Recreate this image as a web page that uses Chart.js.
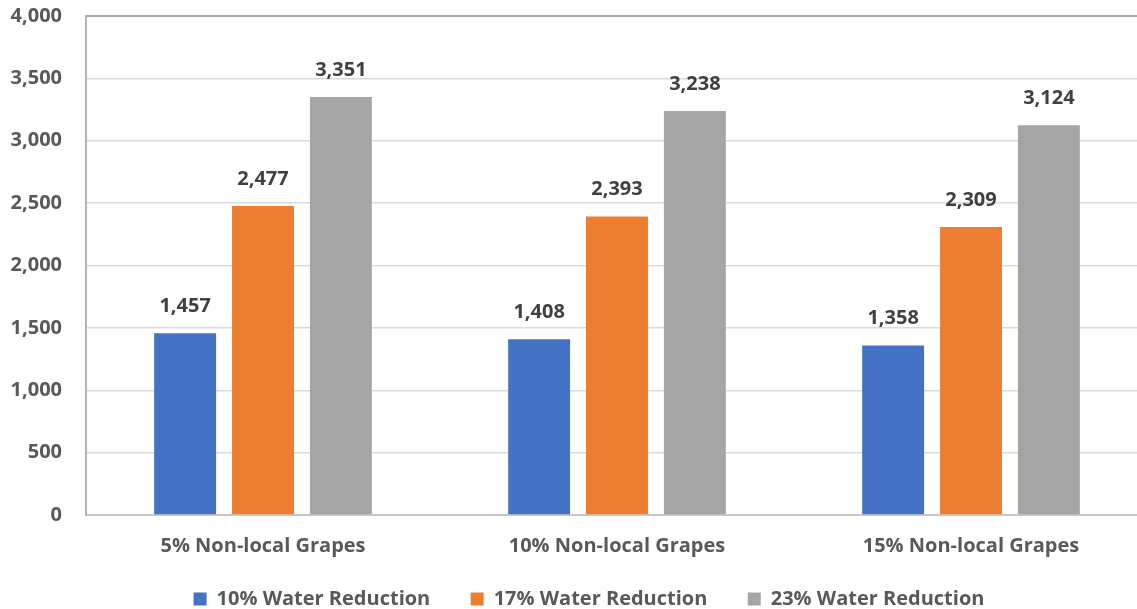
<!DOCTYPE html>
<html>
<head>
<meta charset="utf-8">
<script src="https://cdn.jsdelivr.net/npm/chart.js@4.4.1/dist/chart.umd.min.js"></script>
<style>
  html, body { margin: 0; padding: 0; background: #ffffff; overflow: hidden; }
  #wrap { position: absolute; left: 0; top: 0; width: 1178px; height: 619px; }
</style>
</head>
<body>
<div id="wrap"><canvas id="chart"></canvas></div>
<script>
const categories = ['5% Non-local Grapes', '10% Non-local Grapes', '15% Non-local Grapes'];
const seriesNames = ['10% Water Reduction', '17% Water Reduction', '23% Water Reduction'];
const water10 = [1457, 1408, 1358];
const water17 = [2477, 2393, 2309];
const water23 = [3351, 3238, 3124];
const seriesColors = ['#4472C4', '#ED7D31', '#A5A5A5'];
const yMin = 0, yMax = 4000, yStep = 500;

const FONT = '"Open Sans", "Liberation Sans", sans-serif';
const fmt = v => v.toLocaleString('en-US');

// Bold value label above each bar
const valueLabels = {
  id: 'valueLabels',
  afterDatasetsDraw(chart) {
    const ctx = chart.ctx;
    ctx.save();
    ctx.font = 'bold 20px ' + FONT;
    ctx.fillStyle = '#404040';
    ctx.textAlign = 'center';
    ctx.textBaseline = 'middle';
    chart.data.datasets.forEach((ds, i) => {
      chart.getDatasetMeta(i).data.forEach((bar, j) => {
        ctx.fillText(fmt(ds.data[j]), bar.x, bar.y - 27);
      });
    });
    ctx.restore();
  }
};

new Chart(document.getElementById('chart'), {
  type: 'bar',
  data: {
    labels: categories,
    datasets: [water10, water17, water23].map((d, i) => ({
      label: seriesNames[i],
      data: d,
      backgroundColor: seriesColors[i],
      borderWidth: 0,
      categoryPercentage: 0.66,
      barPercentage: 0.795
    }))
  },
  options: {
    responsive: true,
    maintainAspectRatio: false,
    animation: false,
    layout: { padding: { top: 16, right: 0, bottom: 0, left: 0 } },
    plugins: {
      tooltip: { enabled: false },
      legend: {
        position: 'bottom',
        labels: {
          boxWidth: 13,
          boxHeight: 13,
          padding: 30,
          color: '#595959',
          font: { family: FONT, size: 20, weight: 'bold' },
          // widen the space between consecutive legend entries
          generateLabels(chart) {
            const items = Chart.defaults.plugins.legend.labels.generateLabels(chart);
            items.forEach((it, i) => {
              if (i < items.length - 1) it.text += '\u00a0\u00a0';
            });
            return items;
          }
        }
      }
    },
    scales: {
      x: {
        afterFit(scale) {
          scale.height = 44;
          scale.paddingLeft = 0;
          scale.paddingRight = 30;
        },
        grid: { display: false, drawTicks: false },
        border: { display: true, color: '#C8C8C8', width: 2 },
        ticks: {
          color: '#595959',
          padding: 19,
          font: { family: FONT, size: 20, weight: 'bold' }
        }
      },
      y: {
        min: yMin,
        max: yMax,
        afterFit(scale) {
          scale.width = 86;
          scale.paddingTop = 0;
          scale.paddingBottom = 0;
        },
        grid: {
          drawTicks: false,
          color: ctx => (ctx.tick && ctx.tick.value === yMax) ? '#A6A6A6' : '#D9D9D9',
          lineWidth: ctx => (ctx.tick && ctx.tick.value === yMax) ? 2 : 1.5
        },
        border: { display: true, color: '#B4B4B4', width: 2 },
        ticks: {
          stepSize: yStep,
          color: '#595959',
          padding: 24,
          font: { family: FONT, size: 20, weight: 'bold' },
          callback: v => fmt(v)
        }
      }
    }
  },
  plugins: [valueLabels]
});
</script>
</body>
</html>
